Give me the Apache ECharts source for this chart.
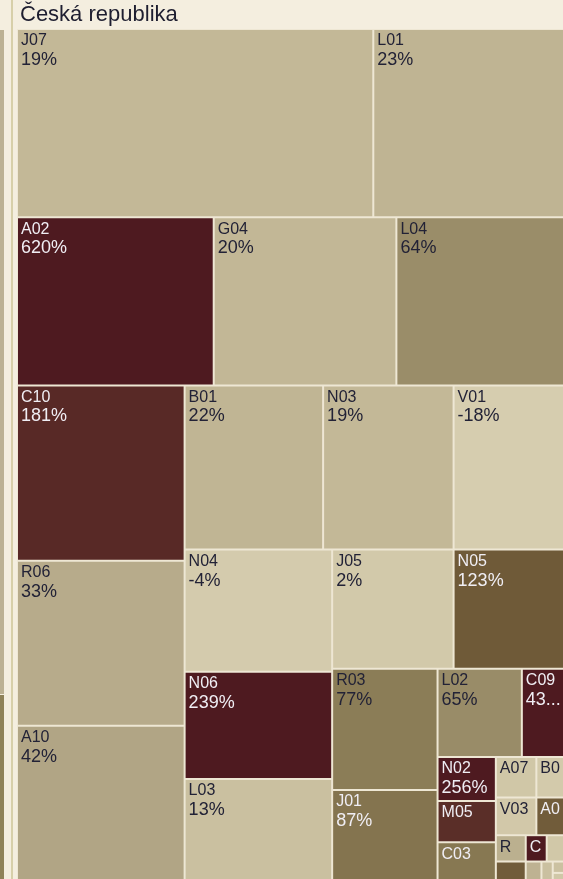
<!DOCTYPE html>
<html>
<head>
<meta charset="utf-8">
<script src="https://cdn.jsdelivr.net/npm/echarts@6/dist/echarts.min.js"></script>
<style>
html,body{margin:0;padding:0;background:#F4EEDF;}
#chart{width:563px;height:879px;}
</style>
</head>
<body>
<div id="chart"></div>
<script>
// ---- data ----
const title = 'Česká republika';
const names = ['J07','L01','A02','G04','L04','C10','R06','A10','B01','N03','V01','N04','N06','L03','J05','N05','R03','J01','L02','C09','N02','M05','C03','A07','B03','V03','A04','R','','C','C','','','',''];
// relative size (area) of each cell
const sizes = [66740,36096,32928,30576,28392,29225,27555,26052,22632,21320,18368,17934,15729,15141,14399,13328,12705,9660,7392,3872,2565,2394,2300,1640,1200,1517,1110,783,609,550,506,320,230,150,120];
// growth in percent
const growth = [19,23,620,20,64,181,33,42,22,19,-18,-4,239,13,2,123,77,87,65,438,256,175,81,5,1,3,120,28,120,300,4,25,13,12,5];

// ---- colour scale (style) ----
const stops = [[-20,'#D6CDAF'],[0,'#D4CBAC'],[13,'#CAC0A0'],[20,'#C2B796'],[33,'#B7AB8B'],[42,'#B1A585'],[64,'#9A8D69'],[80,'#887953'],[123,'#6F5A38'],[181,'#582926'],[239,'#4E1A20']];
function hex(c){return [parseInt(c.substr(1,2),16),parseInt(c.substr(3,2),16),parseInt(c.substr(5,2),16)];}
function colorFor(v){
  if(v<=stops[0][0]) return stops[0][1];
  for(let i=1;i<stops.length;i++){
    if(v<=stops[i][0]){
      const t=(v-stops[i-1][0])/(stops[i][0]-stops[i-1][0]);
      const a=hex(stops[i-1][1]), b=hex(stops[i][1]);
      return 'rgb('+a.map((x,k)=>Math.round(x+(b[k]-x)*t)).join(',')+')';
    }
  }
  return stops[stops.length-1][1];
}

const data = names.map((n,i)=>({
  name:n,
  value:sizes[i],
  pct:growth[i],
  itemStyle:{color:colorFor(growth[i])},
  label:{color: growth[i]>=80 ? '#F0EEF4' : '#222236'}
}));

const chart = echarts.init(document.getElementById('chart'), null, {renderer:'canvas'});
const FONT = '"Liberation Sans", Arial, sans-serif';
chart.setOption({
  animation:false,
  backgroundColor:'#F4EEDF',
  title:{
    text:title, left:20, top:4, padding:0,
    textStyle:{fontSize:22, fontWeight:'normal', color:'#1E1E30', fontFamily:FONT}
  },
  graphic:[
    {type:'rect', left:0, top:30, shape:{width:4, height:664}, style:{fill:'#BCB193'}, silent:true},
    {type:'rect', left:0, top:695, shape:{width:4, height:184}, style:{fill:'#8F8258'}, silent:true},
    {type:'rect', left:11, top:0, shape:{width:2, height:879}, style:{fill:'#D7CFA9'}, silent:true}
  ],
  series:[{
    type:'treemap',
    left:17, top:29, width:549, height:853,
    roam:false, nodeClick:false,
    breadcrumb:{show:false},
    sort:false,
    squareRatio:0.96,
    visibleMin:0,
    label:{
      show:true,
      position:'insideTopLeft',
      padding:[2,3,0,3],
      overflow:'truncate',
      ellipsis:'...',
      fontFamily:FONT,
      formatter:p=> p.name ? '{n|'+p.name+'}\n{v|'+p.data.pct+'%}' : '',
      rich:{
        n:{fontSize:16, lineHeight:18, fontFamily:FONT},
        v:{fontSize:18, lineHeight:20, fontFamily:FONT}
      }
    },
    upperLabel:{show:false},
    levels:[
      {itemStyle:{borderWidth:0, gapWidth:0, borderColor:'#EEE7D4'}},
      {itemStyle:{borderWidth:1, borderColor:'#EEE7D4', gapWidth:0}}
    ],
    data:data
  }]
});
</script>
</body>
</html>
